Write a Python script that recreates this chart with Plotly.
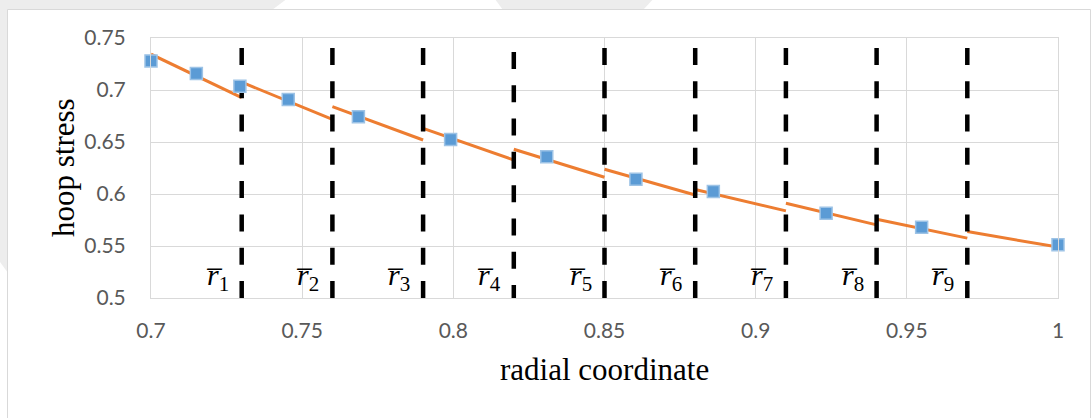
import plotly.graph_objects as go

# ---------------- data ----------------
marker_r = [0.700, 0.715, 0.7294, 0.7454, 0.7686, 0.7991, 0.8309, 0.8604, 0.8860, 0.9233, 0.9549, 1.000]
marker_stress = [0.7280, 0.7158, 0.7037, 0.6909, 0.6742, 0.6525, 0.6358, 0.6142, 0.6023, 0.5815, 0.5681, 0.5511]

seg_r_start = [0.70, 0.73, 0.76, 0.79, 0.82, 0.85, 0.88, 0.91, 0.94, 0.97]
seg_r_end = [0.73, 0.76, 0.79, 0.82, 0.85, 0.88, 0.91, 0.94, 0.97, 1.00]
seg_stress_start = [0.7344, 0.7075, 0.6840, 0.6631, 0.6430, 0.6238, 0.6044, 0.5911, 0.5758, 0.5639]
seg_stress_end = [0.6926, 0.6717, 0.6519, 0.6327, 0.6161, 0.5991, 0.5838, 0.5703, 0.5576, 0.5489]

r_bar = [0.73, 0.76, 0.79, 0.82, 0.85, 0.88, 0.91, 0.94, 0.97]
r_bar_labels = ["1", "2", "3", "4", "5", "6", "7", "8", "9"]
r_bar_top = [0.7405, 0.7405, 0.7405, 0.7366, 0.7405, 0.7405, 0.7405, 0.7405, 0.7405]
r_bar_bottom = [0.5, 0.5, 0.5, 0.5, 0.5, 0.5, 0.5, 0.5, 0.5]

x_tickvals = [0.7, 0.75, 0.8, 0.85, 0.9, 0.95, 1.0]
x_ticktext = ["0.7", "0.75", "0.8", "0.85", "0.9", "0.95", "1"]
y_tickvals = [0.5, 0.55, 0.6, 0.65, 0.7, 0.75]
y_ticktext = ["0.5", "0.55", "0.6", "0.65", "0.7", "0.75"]

x_title = "radial coordinate"
y_title = "hoop stress"

# ---------------- style ----------------
ORANGE = "#ED7D31"
BLUE = "#5B9BD5"
GRID = "#D9D9D9"
LABEL_Y = 0.5205
W, H = 1092, 418
ML, MR, MT, MB = 151, 34, 38, 120
PW, PH = W - ML - MR, H - MT - MB


def px_x(px):
    return (px - ML) / PW


def px_y(py):
    return (H - MB - py) / PH


fig = go.Figure()

# orange piecewise segments
seg_x, seg_y = [], []
for xs, xe, ys, ye in zip(seg_r_start, seg_r_end, seg_stress_start, seg_stress_end):
    seg_x += [xs, xe, None]
    seg_y += [ys, ye, None]
fig.add_trace(go.Scatter(x=seg_x, y=seg_y, mode="lines",
                         line=dict(color=ORANGE, width=3), hoverinfo="skip"))

# dashed interface lines
for xr, yt, yb in zip(r_bar, r_bar_top, r_bar_bottom):
    fig.add_trace(go.Scatter(x=[xr, xr], y=[yt, yb], mode="lines",
                             line=dict(color="black", width=4.5, dash="17px,16.3px"),
                             hoverinfo="skip"))

# markers
fig.add_trace(go.Scatter(x=marker_r, y=marker_stress, mode="markers", cliponaxis=False,
                         marker=dict(symbol="square", size=12, color=BLUE,
                                     line=dict(color="#9DC3E6", width=1.5))))

annotations = []
for xr, lab in zip(r_bar, r_bar_labels):
    annotations.append(dict(
        x=xr, y=LABEL_Y, xref="x", yref="y", xanchor="right", yanchor="middle",
        xshift=-11, showarrow=False,
        text="<i>r\u0305</i><sub>" + lab + "</sub>",
        font=dict(family="Liberation Serif", size=30, color="black")))

annotations.append(dict(x=px_x(63), y=0.5, xref="paper", yref="paper", textangle=-90,
                        xanchor="center", yanchor="middle", showarrow=False, text=y_title,
                        font=dict(family="Liberation Serif", size=31, color="black")))
annotations.append(dict(x=0.5, y=px_y(369), xref="paper", yref="paper",
                        xanchor="center", yanchor="middle", showarrow=False, text=x_title,
                        font=dict(family="Liberation Serif", size=31, color="black")))

WM = "#EDEDED"
shapes = [
    dict(type="path", xref="paper", yref="paper", layer="below", line=dict(width=0), fillcolor=WM,
         path=f"M {px_x(-5)},{px_y(-5)} L {px_x(8)},{px_y(-5)} L {px_x(8)},{px_y(273)} L {px_x(-5)},{px_y(255)} Z"),
    dict(type="path", xref="paper", yref="paper", layer="below", line=dict(width=0), fillcolor=WM,
         path=f"M {px_x(-5)},{px_y(-5)} L {px_x(292)},{px_y(-5)} L {px_x(272)},{px_y(10)} L {px_x(-5)},{px_y(10)} Z"),
    dict(type="path", xref="paper", yref="paper", layer="below", line=dict(width=0), fillcolor=WM,
         path=f"M {px_x(492)},{px_y(-5)} L {px_x(657)},{px_y(-5)} L {px_x(643)},{px_y(10)} L {px_x(503)},{px_y(10)} Z"),
    dict(type="rect", xref="paper", yref="paper", layer="below",
         x0=px_x(7.5), x1=px_x(1090.5), y0=px_y(440), y1=px_y(9.5),
         line=dict(color=GRID, width=1), fillcolor="white"),
]

fig.update_layout(
    width=W, height=H, margin=dict(l=ML, r=MR, t=MT, b=MB, pad=0),
    paper_bgcolor="white", plot_bgcolor="white", showlegend=False,
    annotations=annotations, shapes=shapes,
)
fig.update_xaxes(range=[0.7, 1.0], tickvals=x_tickvals, ticktext=x_ticktext,
                 showgrid=True, gridcolor=GRID, gridwidth=1, zeroline=False,
                 showline=True, linecolor=GRID, linewidth=1, mirror=True, ticks="",
                 tickfont=dict(family="Lato", size=21, color="#595959"),
                 ticklabelstandoff=14)
fig.update_yaxes(range=[0.5, 0.75], tickvals=y_tickvals, ticktext=y_ticktext,
                 showgrid=True, gridcolor=GRID, gridwidth=1, zeroline=False,
                 showline=True, linecolor=GRID, linewidth=1, mirror=True, ticks="",
                 tickfont=dict(family="Lato", size=21, color="#595959"),
                 ticklabelstandoff=20)

fig.write_html("out.html")
